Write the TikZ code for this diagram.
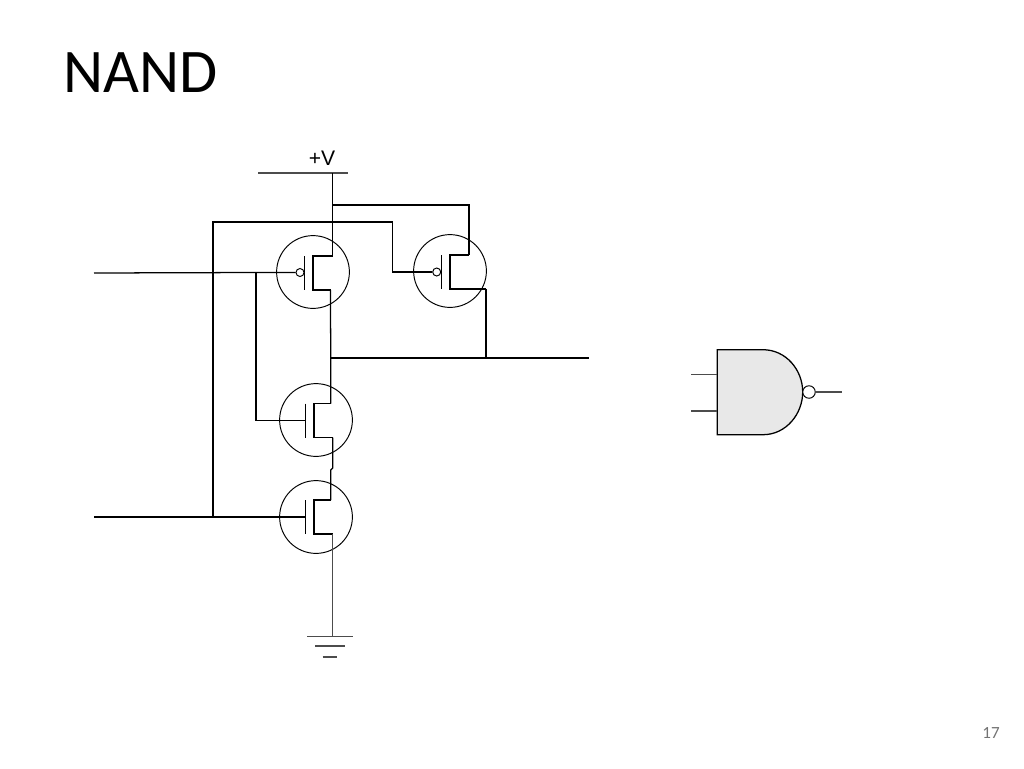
\documentclass[tikz,border=0pt]{standalone}
\usepackage{fontspec}
\setmainfont{Carlito}
\newfontfamily\arialfont{Liberation Sans}
\tikzset{
wire/.style={line width=0.72pt},
thinwire/.style={line width=0.65pt,color=black!70},
fet/.style={circle,draw,line width=0.55pt,minimum size=2.08cm*0.7,inner sep=0pt},
bubble/.style={circle,draw,line width=0.55pt,fill=white,minimum size=0.16cm,inner sep=0pt}
}
\begin{document}
\begin{tikzpicture}[x=0.02cm,y=-0.02cm]
\useasboundingbox (0,0) rectangle (1024,768);
\node[anchor=base west,inner sep=0pt,font=\fontsize{35.3}{40}\selectfont] (title) at (63,92) {NAND};
\node[anchor=base,inner sep=0pt,font=\fontsize{9.7}{12}\selectfont,color=black!55] (page) at (991,738) {17};
\node[anchor=base,inner sep=0pt,font=\arialfont\fontsize{12}{14}\selectfont] (vlabel) at (322,165) {+V};
% transistors
\foreach \name/\x/\y/\c/\top/\rt/\rb in {
T1/313/272/313/256/332.5/330.5,
T2/450/271/450/255/469/486,
T3/316/420/314/403.5/330.7/332.7,
T4/316/517/314/500/330.7/332.7}
{
\node[fet] (\name) at (\x,\y) {};
\coordinate (\name-drain) at (\rt,\top);
\coordinate (\name-source) at (\rb,\top+34);
\draw[wire] (\c-8.5,\top) -- (\c-8.5,\top+34);
\draw[wire] (\name-drain) -- (\c,\top) -- (\c,\top+34) -- (\name-source);
\coordinate (\name-gate) at (\c-8.5,\top+17);
}
\node[bubble] (B1) at (300,272.5) {};
\node[bubble] (B2) at (436.7,272) {};
% supply and ground
\coordinate (railL) at (258,173);
\coordinate (railR) at (348,173);
\coordinate (vdd) at (332.5,173);
\coordinate (tap) at (332.5,205);
\coordinate (gnd) at (332.7,636.7);
\draw[thinwire] (railL) -- (railR);
\draw[wire] (T1-drain) -- (vdd);
\draw[wire] (T2-drain) |- (tap);
\draw[thinwire] (T4-source) -- (gnd);
\draw[thinwire] (307,636.7) -- (352.7,636.7);
\draw[thinwire] (315,646) -- (345,646);
\draw[thinwire] (322.7,657) -- (337,657);
% inputs
\coordinate (inA) at (94,273);
\coordinate (inB) at (94,517);
\coordinate (splitA) at (256,272.5);
\coordinate (splitB) at (213,517);
\draw[wire] (inA) -- (splitA) -- (B1);
\draw[wire] (splitA) |- (T3-gate);
\draw[wire] (inB) -- (T4-gate);
\draw[wire] (splitB) |- (392.7,222) |- (B2);
% output
\coordinate (outL) at (330.7,358);
\coordinate (outR) at (589,358);
\draw[wire] (T1-source) -- (outL) -- (T3-drain);
\draw[wire] (T3-source) -- (332.7,468) -- (330.7,470) -- (T4-drain);
\draw[wire] (outL) -- (outR);
\draw[wire] (T2-source) -- (486,358);
% gate symbol
\draw[wire,fill=black!9] (717.3,349.7) -- (763,349.7) .. controls (786,349.7) and (802.7,370) .. (802.7,392) .. controls (802.7,414) and (786,434.7) .. (763,434.7) -- (717.3,434.7) -- cycle;
\node[bubble,minimum size=0.25cm] (B3) at (809,392) {};
\coordinate (gateA) at (691,374.7);
\coordinate (gateB) at (691,411);
\coordinate (gateOut) at (841.7,392);
\draw[thinwire] (gateA) -- (717.3,374.7);
\draw[thinwire] (gateB) -- (717.3,411);
\draw[thinwire] (B3) -- (gateOut);
\end{tikzpicture}
\end{document}
